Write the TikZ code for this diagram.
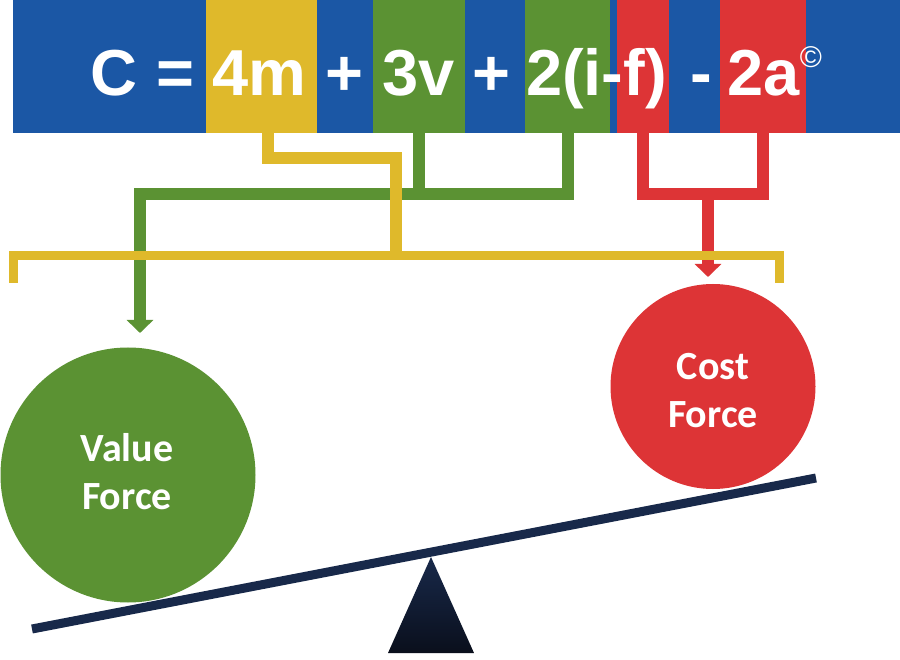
\documentclass[tikz,border=0pt]{standalone}
\usepackage{fontspec}
\setmainfont{Liberation Sans}
\newfontfamily\calfont{Carlito}
\usetikzlibrary{arrows.meta}
\definecolor{bblue}{HTML}{1B57A5}
\definecolor{byel}{HTML}{DFB92B}
\definecolor{bgreen}{HTML}{5B9233}
\definecolor{bred}{HTML}{DD3436}
\definecolor{navy}{HTML}{18294A}
\definecolor{navydark}{HTML}{0A0F1C}
\begin{document}
\begin{tikzpicture}[x=1pt,y=-1pt,
  seg/.style={rectangle,inner sep=0pt,minimum height=133pt,draw=none},
  eq/.style={text=white,font=\bfseries\fontsize{65}{65}\selectfont,inner sep=0pt,anchor=base},
  conn/.style={line width=12pt},
  brk/.style={line width=9pt,byel},
  tip/.style={-{Triangle[width=26pt,length=13pt]}},
  force/.style={circle,inner sep=0pt,draw=none},
  ftext/.style={text=white,font=\calfont\bfseries\fontsize{40}{47.5}\selectfont,align=center,inner sep=0pt}
]
\useasboundingbox (0,0) rectangle (900,660);
\fill[white] (0,0) rectangle (900,660);

% banner
\node[seg,fill=bblue,minimum width=887pt] (banner) at (456.5,66.5) {};
\node[seg,fill=byel,minimum width=111pt] (sm) at (261.5,66.5) {};
\node[seg,fill=bgreen,minimum width=92pt] (sv) at (419,66.5) {};
\node[seg,fill=bgreen,minimum width=85pt] (si) at (567.5,66.5) {};
\node[seg,fill=bred,minimum width=52pt] (sf) at (643,66.5) {};
\node[seg,fill=bred,minimum width=86pt] (sa) at (763,66.5) {};

% equation text
\node[eq] (tC) at (114,96) {C};
\node[eq] (tEq) at (175.5,96) {=};
\node[eq] (t4m) at (259,96) {4m};
\node[eq] (tP1) at (344.5,96) {+};
\node[eq] (t3v) at (419,96) {3v};
\node[eq] (tP2) at (491.5,96) {+};
\node[eq] (tif) at (596.5,96) {2(i-f)};
\node[eq] (tM) at (701,96) {-};
\node[eq] (t2a) at (764,96) {2a};
\node[text=white,font=\fontsize{30}{30}\selectfont,inner sep=0pt] (tcopy) at (811,57) {©};

% coordinates for connectors
\coordinate (gj) at (140,194);
\coordinate (gtip) at (140,333);
\coordinate (rj) at (708,194);
\coordinate (rtip) at (708,277);
\coordinate (ystep) at (396,158);
\coordinate (ybar) at (396,256);
\coordinate (yl) at (13,283);
\coordinate (yr) at (779,283);

% green connectors
\draw[conn,bgreen,tip] (si.south) |- (gj) -- (gtip);
\draw[conn,bgreen] (sv.south) -- (sv.south |- gj);

% red connectors
\draw[conn,bred] (sf.south) -- (sf.south |- rj) -- (sa.south |- rj) -- (sa.south);
\draw[conn,bred,tip] (rj) -- (rtip);

% yellow connectors
\draw[brk] (yl) -- (yl |- ybar) -- (yr |- ybar) -- (yr);
\draw[conn,byel] ([xshift=6.5pt]sm.south) |- (ystep) -- (ybar);

% force circles
\node[force,fill=bgreen,minimum size=255pt] (vf) at (128,475) {};
\node[force,fill=bred,minimum size=205pt] (cf) at (713,386.5) {};
\node[ftext] (vftext) at ([xshift=-1pt,yshift=3.5pt]vf.center) {Value\\Force};
\node[ftext] (cftext) at ([yshift=-4pt]cf.center) {Cost\\Force};

% seesaw
\coordinate (bl) at (32,629);
\coordinate (br) at (816,478);
\shade[top color=navy,bottom color=navydark] (388,653) -- (474,653) -- (431,557) -- cycle;
\draw[navy,line width=9pt] (bl) -- (br);
\end{tikzpicture}
\end{document}
